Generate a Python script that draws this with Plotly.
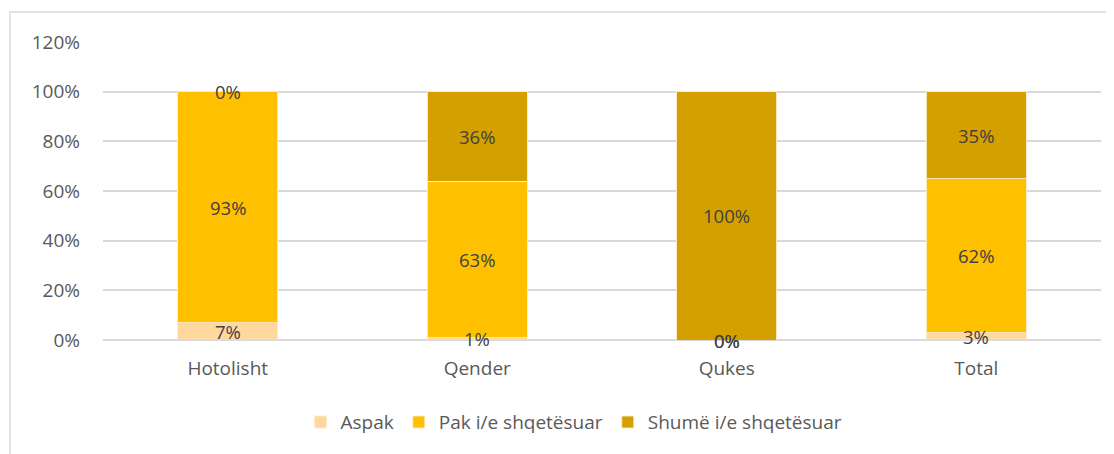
import plotly.graph_objects as go

categories = ["Hotolisht", "Qender", "Qukes", "Total"]
series_names = ["Aspak", "Pak i/e shqetësuar", "Shumë i/e shqetësuar"]
aspak = [7, 1, 0, 3]
pak = [93, 63, 0, 62]
shume = [0, 36, 100, 35]
colors = ["#FFD8A0", "#FFC000", "#D4A000"]
ytick_vals = [0, 20, 40, 60, 80, 100, 120]
ytick_text = ["0%", "20%", "40%", "60%", "80%", "100%", "120%"]

FONT = "Open Sans, Liberation Sans, sans-serif"
series = [aspak, pak, shume]
fig = go.Figure()
for name, vals, col in zip(series_names, series, colors):
    fig.add_trace(go.Bar(
        x=categories, y=vals, name=name,
        marker=dict(color=col, line=dict(color="rgba(255,235,200,0.9)", width=1)),
        width=0.4, hoverinfo="skip",
    ))

# data labels centred in each segment
annotations = []
for ci, cat in enumerate(categories):
    base = 0
    for vals in series:
        v = vals[ci]
        annotations.append(dict(
            x=cat, y=base + v / 2, xref="x", yref="y",
            text=f"{v}%", showarrow=False,
            font=dict(family=FONT, size=18.5, color="#404040"),
        ))
        base += v

fig.update_layout(
    barmode="stack",
    width=1106, height=446,
    margin=dict(l=95, r=13, t=34, b=114),
    paper_bgcolor="white", plot_bgcolor="white",
    font=dict(family=FONT, size=19, color="#595959"),
    bargap=0.6,
    showlegend=True,
    legend=dict(orientation="h", x=0.472, xanchor="center", y=-0.212, yanchor="top",
                font=dict(size=19, color="#595959"), traceorder="normal"),
    annotations=annotations,
    shapes=[
        dict(type="rect", xref="paper", yref="paper", x0=-0.0932, x1=1.05, y0=-0.45, y1=1.1007,
             line=dict(color="#D9D9D9", width=1.5), fillcolor="rgba(0,0,0,0)", layer="below"),
    ],
)
fig.update_xaxes(showgrid=False, showline=False, ticks="", ticklabelstandoff=15,
                 tickfont=dict(size=19, color="#595959"))
fig.update_yaxes(range=[0, 120], tickvals=ytick_vals, ticktext=ytick_text,
                 showgrid=True, gridcolor="#D9D9D9", gridwidth=1.5, zeroline=True,
                 zerolinecolor="#D9D9D9", zerolinewidth=1.5, ticks="", ticklabelstandoff=22,
                 tickfont=dict(size=19, color="#595959"))

fig.write_html("out.html")
